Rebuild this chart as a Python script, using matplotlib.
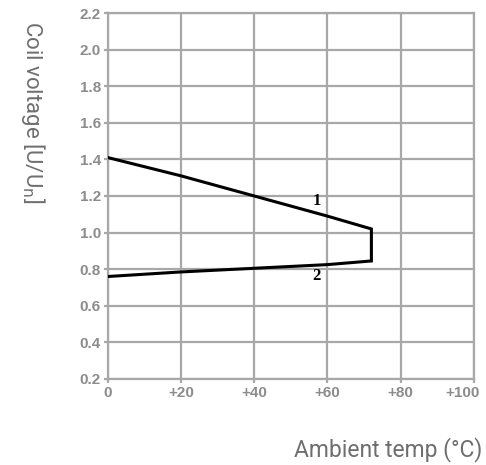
import matplotlib
matplotlib.use("Agg")
import matplotlib.pyplot as plt
import matplotlib.transforms as mtransforms

# curve 1: upper limit, curve 2: lower limit (pick-up)
temp_upper = [0, 20, 40, 60, 72]
volt_upper = [1.41, 1.31, 1.2, 1.09, 1.02]
temp_lower = [0, 20, 40, 60, 72]
volt_lower = [0.76, 0.785, 0.805, 0.825, 0.845]

xticks = [0, 20, 40, 60, 80, 100]
xtick_labels = ["0", "+20", "+40", "+60", "+80", "+100"]
yticks = [0.2, 0.4, 0.6, 0.8, 1.0, 1.2, 1.4, 1.6, 1.8, 2.0, 2.2]

fig = plt.figure(figsize=(4.86, 4.65), dpi=100)
ax = fig.add_axes([0.222, 0.185, 0.753, 0.787])

grid_c = "#a8a8a8"
tick_c = "#8c8c8c"

# closed outline: curve 1, vertical edge, curve 2
xs = temp_upper + temp_lower[::-1]
ys = volt_upper + volt_lower[::-1]
ax.plot(xs, ys, color="black", lw=2.2, solid_joinstyle="miter", zorder=3)

ax.set_xlim(0, 100)
ax.set_ylim(0.2, 2.2)
ax.set_xticks(xticks)
ax.set_xticklabels(xtick_labels)
ax.set_yticks(yticks)
ax.set_yticklabels([f"{v:.1f}" for v in yticks])
ax.grid(True, color=grid_c, lw=1.6)
ax.set_axisbelow(True)
for s in ax.spines.values():
    s.set_color(grid_c)
    s.set_linewidth(1.6)
ax.tick_params(colors=grid_c, length=3, width=1.6, labelcolor=tick_c, labelsize=11, pad=2)
for lab in ax.get_xticklabels() + ax.get_yticklabels():
    lab.set_fontweight("bold")
    lab.set_fontfamily("Liberation Sans")

# last x label sits pulled in from the right edge
last = ax.get_xticklabels()[-1]
last.set_transform(last.get_transform() + mtransforms.ScaledTranslation(-11 / 100, 0, fig.dpi_scale_trans))

ax.text(57, 1.17, "1", fontsize=12, fontweight="bold", family="Liberation Serif", ha="center", va="center")
ax.text(57, 0.765, "2", fontsize=12, fontweight="bold", family="Liberation Serif", ha="center", va="center")

fig.text(0.068, 1 - 112 / 465, "Coil voltage [U/U$_\\mathrm{n}$]", rotation=270,
         ha="center", va="center", fontsize=16, color="#6e6e6e", family="Roboto")
fig.text(0.992, 1 - 450 / 465, "Ambient temp (°C)", ha="right", va="center",
         fontsize=16.5, color="#6e6e6e", family="Roboto")

fig.savefig("out.png", dpi=100)
